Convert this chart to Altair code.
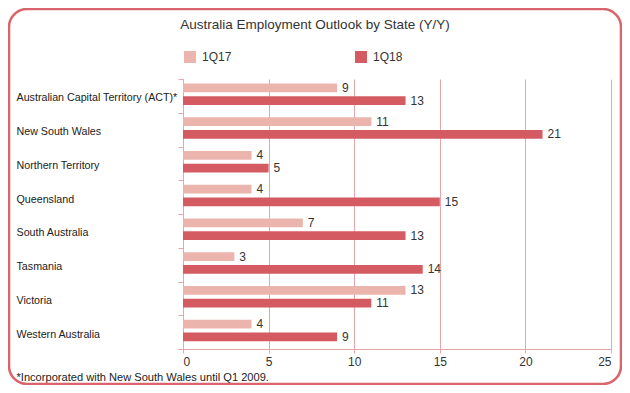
import altair as alt
import pandas as pd

states = ["Australian Capital Territory (ACT)*", "New South Wales", "Northern Territory",
          "Queensland", "South Australia", "Tasmania", "Victoria", "Western Australia"]
q17 = [9, 11, 4, 4, 7, 3, 13, 4]
q18 = [13, 21, 5, 15, 13, 14, 11, 9]
series = ["1Q17", "1Q18"]
colors = ["#EBB5AE", "#D45B61"]
x_ticks = [0, 5, 10, 15, 20, 25]

rows = []
for s, a, b in zip(states, q17, q18):
    rows.append({"state": s, "series": series[0], "value": a})
    rows.append({"state": s, "series": series[1], "value": b})
df = pd.DataFrame(rows)

FONT = "Liberation Sans"
GRID = "#E6A6AA"
W, H = 428, 270

y_enc = alt.Y("state:N", sort=states,
              scale=alt.Scale(paddingInner=0, paddingOuter=0),
              axis=alt.Axis(title=None, tickBand="extent", tickSize=5, labelPadding=162,
                            labelAlign="left", labelOffset=2, labelFont=FONT,
                            labelFontSize=10.7, labelColor="#222", domainColor=GRID,
                            tickColor=GRID, labelLimit=300))
yoff = alt.YOffset("series:N", sort=series,
                   scale=alt.Scale(paddingInner=0.315, paddingOuter=0.486, align=0.37))
x_enc = alt.X("value:Q", scale=alt.Scale(domain=[0, 25], nice=False),
              axis=alt.Axis(values=x_ticks, grid=True, gridColor=GRID, tickColor=GRID,
                            domainColor=GRID, tickSize=4, labelPadding=3,
                            labelFont=FONT, labelFontSize=12, labelColor="#333",
                            title="*Incorporated with New South Wales until Q1 2009.",
                            titleX=-167, titleY=28, titleAlign="left", titleBaseline="middle",
                            titleAnchor="start", titleFont=FONT, titleFontSize=11.1,
                            titleFontWeight="normal", titleColor="#222"))

base = alt.Chart(df)
bars = base.mark_bar().encode(
    x=x_enc, y=y_enc, yOffset=yoff,
    color=alt.Color("series:N", sort=series,
                    scale=alt.Scale(domain=series, range=colors),
                    legend=alt.Legend(title=None, orient="none", legendX=1, legendY=-28,
                                      direction="horizontal", symbolType="square",
                                      symbolSize=144, symbolStrokeWidth=0, labelOffset=6,
                                      columnPadding=123, labelFont=FONT, labelFontSize=12,
                                      labelColor="#333")),
)
labels = base.mark_text(align="left", baseline="middle", dx=5, font=FONT,
                        fontSize=12, color="#333").encode(
    x="value:Q", y=alt.Y("state:N", sort=states), yOffset=alt.YOffset("series:N", sort=series),
    text="value:Q")

border = alt.Chart(alt.Data(values=[{}])).mark_rect(
    fillOpacity=0, stroke="#D9646B", strokeWidth=2.5, cornerRadius=18).encode(
    x=alt.value(-174), x2=alt.value(438), y=alt.value(-70), y2=alt.value(305))

chart = alt.layer(border, bars, labels).properties(
    width=W, height=H,
    autosize=alt.AutoSizeParams(type="none"),
    padding={"left": 175, "top": 71, "right": 11, "bottom": 36},
    title=alt.TitleParams("Australia Employment Outlook by State (Y/Y)", anchor="middle",
                          dx=-82, dy=24, offset=0, font=FONT, fontSize=13.5,
                          fontWeight="normal", color="#333"),
).configure_view(stroke=None)

chart.save("out.html", embed_options={"renderer": "svg", "actions": False})
